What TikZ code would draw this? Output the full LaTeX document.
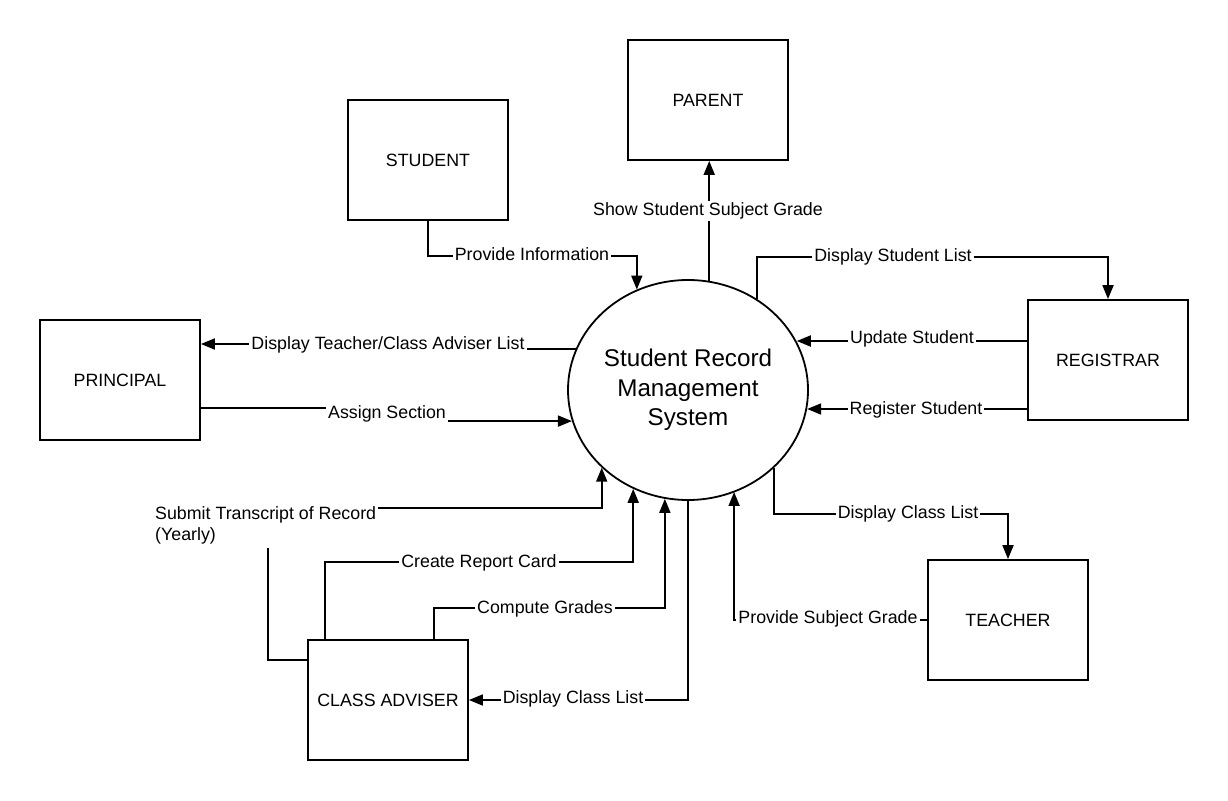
\documentclass[tikz,border=0pt]{standalone}
\usepackage{fontspec}
\setmainfont{Liberation Sans}
\usetikzlibrary{arrows.meta,shapes.geometric}

\begin{document}
\begin{tikzpicture}[
  x=1pt, y=-1pt,
  font=\fontsize{17.8}{21}\selectfont,
  entity/.style={draw, line width=1.8pt, minimum width=160pt, minimum height=120pt},
  process/.style={draw, ellipse, line width=1.8pt, minimum width=240pt, minimum height=220pt,
    inner sep=0pt, align=center, font=\fontsize{24.2}{29.5}\selectfont},
  flow/.style={-{Triangle[length=14pt,width=11pt]}, line width=1.8pt},
  plain/.style={line width=1.8pt},
  lbl/.style={fill=white, inner sep=2pt}
]
  \useasboundingbox (0,0) rectangle (1228,800);

  \node[process] (sys) at (688,390) {Student Record\\Management\\System};
  \node[entity] (parent) at (708,100) {PARENT};
  \node[entity] (student) at (428,160) {STUDENT};
  \node[entity] (principal) at (120,380) {PRINCIPAL};
  \node[entity] (registrar) at (1108,360) {REGISTRAR};
  \node[entity] (teacher) at (1008,620) {TEACHER};
  \node[entity] (adviser) at (388,700) {CLASS ADVISER};

  \coordinate (transA) at (268,548);
  \coordinate (transB) at (378,508);
  \coordinate (jogA) at (388,347);
  \coordinate (jogB) at (387,415);

  % connectors
  \draw[flow] (student.south) -- ++(0,35) -| (sys.117.7);
  \draw[flow] (sys.79.6) -- (parent.south -| sys.79.6);
  \draw[flow] (sys.53.1) |- ([yshift=42pt]registrar.north) -- (registrar.north);
  \draw[flow] ([yshift=19pt]registrar.west) -- ([yshift=19pt]registrar.west -| sys.24.5);
  \draw[flow] ([yshift=-49pt]registrar.west) -- ([yshift=-49pt]registrar.west -| sys.-9.1);
  \draw[flow] (sys.160.3) -| (jogA) |- ([yshift=36pt]principal.east);
  \draw[flow] ([yshift=-28pt]principal.east) -| (jogB) |- (sys.195.6);
  \draw[plain] ([yshift=40pt]adviser.west) -| (transA);
  \draw[flow] (transB) -| (sys.-138.3);
  \draw[flow] ([xshift=-63pt]adviser.north) -- ++(0,-77) -| (sys.-119.9);
  \draw[flow] ([xshift=46pt]adviser.north) -- ++(0,-31) -| (sys.-102);
  \draw[flow] (sys.south) |- (adviser.east);
  \draw[flow] (sys.-42.4) |- ([yshift=45pt]teacher.north) -- (teacher.north);
  \draw[flow] (teacher.west) -| ([xshift=-193pt]teacher.west |- sys.-65.1);

  % labels
  \node[lbl] (lInfo) at (532,254) {Provide Information};
  \node[lbl] (lShow) at (708,211) {Show Student Subject Grade};
  \node[lbl] (lStList) at (893,257) {Display Student List};
  \node[lbl] (lUpdate) at (912,339) {Update Student};
  \node[lbl] (lRegister) at (916,410) {Register Student};
  \node[lbl] (lTeachList) at (388,345) {Display Teacher/Class Adviser List};
  \node[lbl] (lAssign) at (387,414) {Assign Section};
  \node[align=left, anchor=west, inner sep=0pt] (lTrans) at (155,525)
    {Submit Transcript of Record\\(Yearly)};
  \node[lbl] (lReport) at (479,563) {Create Report Card};
  \node[lbl] (lCompute) at (545,609) {Compute Grades};
  \node[lbl] (lAdvList) at (573,699) {Display Class List};
  \node[lbl] (lTchList) at (908,514) {Display Class List};
  \node[lbl] (lSubj) at (828,619) {Provide Subject Grade};
\end{tikzpicture}
\end{document}
